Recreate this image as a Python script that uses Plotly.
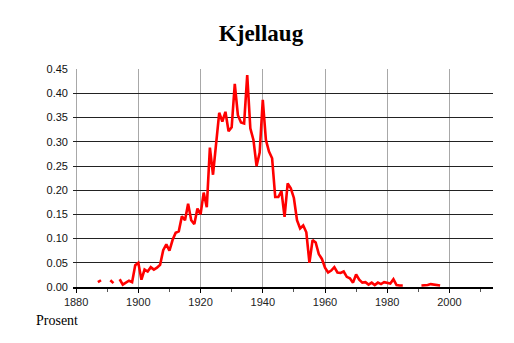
import plotly.graph_objects as go

years = list(range(1887, 1999))
values_by_year = {
    1887: 0.010, 1888: 0.014,
    1891: 0.014, 1892: 0.008,
    1894: 0.016, 1895: 0.005, 1896: 0.009, 1897: 0.013, 1898: 0.010, 1899: 0.045,
    1900: 0.050, 1901: 0.015, 1902: 0.036, 1903: 0.032, 1904: 0.041, 1905: 0.036,
    1906: 0.040, 1907: 0.046, 1908: 0.076, 1909: 0.088, 1910: 0.075, 1911: 0.097,
    1912: 0.112, 1913: 0.115, 1914: 0.146, 1915: 0.138, 1916: 0.172, 1917: 0.138,
    1918: 0.130, 1919: 0.162, 1920: 0.150, 1921: 0.195, 1922: 0.165, 1923: 0.288,
    1924: 0.232, 1925: 0.295, 1926: 0.360, 1927: 0.342, 1928: 0.362, 1929: 0.322,
    1930: 0.330, 1931: 0.420, 1932: 0.355, 1933: 0.340, 1934: 0.338, 1935: 0.438,
    1936: 0.328, 1937: 0.304, 1938: 0.250, 1939: 0.278, 1940: 0.387, 1941: 0.304,
    1942: 0.280, 1943: 0.266, 1944: 0.186, 1945: 0.186, 1946: 0.198, 1947: 0.145,
    1948: 0.214, 1949: 0.204, 1950: 0.184, 1951: 0.138, 1952: 0.121, 1953: 0.127,
    1954: 0.113, 1955: 0.050, 1956: 0.097, 1957: 0.092, 1958: 0.068, 1959: 0.058,
    1960: 0.040, 1961: 0.030, 1962: 0.034, 1963: 0.041, 1964: 0.030, 1965: 0.029,
    1966: 0.032, 1967: 0.021, 1968: 0.018, 1969: 0.009, 1970: 0.026, 1971: 0.015,
    1972: 0.009, 1973: 0.010, 1974: 0.005, 1975: 0.009, 1976: 0.004, 1977: 0.009,
    1978: 0.006, 1979: 0.010, 1980: 0.008, 1981: 0.007, 1982: 0.016, 1983: 0.004,
    1984: 0.003, 1985: 0.003,
    1991: 0.003, 1992: 0.003, 1993: 0.004, 1994: 0.006, 1995: 0.005, 1996: 0.003,
    1997: 0.003,
}
values = [values_by_year.get(y) for y in years]

x_ticks = [1880, 1900, 1920, 1940, 1960, 1980, 2000]
y_ticks = [0.00, 0.05, 0.10, 0.15, 0.20, 0.25, 0.30, 0.35, 0.40, 0.45]

fig = go.Figure()
fig.add_trace(go.Scatter(
    x=years, y=values, mode="lines", connectgaps=False,
    line=dict(color="#ff0000", width=2.6), hoverinfo="skip",
))

# page body has an 8px margin, so the figure is offset by 8px
fig.update_layout(
    width=506, height=335,
    margin=dict(l=64.5, r=20.5, t=61.3, b=56.3),
    paper_bgcolor="white", plot_bgcolor="white",
    showlegend=False,
    title=dict(text="<b>Kjellaug</b>", x=0.5, xanchor="center", y=0.925, yanchor="middle",
               font=dict(family="Liberation Serif", size=23, color="black")),
    annotations=[dict(text="Prosent", xref="paper", yref="paper", x=-0.094, y=-0.153,
                      xanchor="left", yanchor="middle", showarrow=False,
                      font=dict(family="Liberation Serif", size=14, color="black"))],
)

fig.update_xaxes(
    range=[1879, 2014], tickmode="array", tickvals=x_ticks,
    ticktext=[str(t) for t in x_ticks],
    showgrid=True, gridcolor="#a8a8a8", gridwidth=1,
    showline=True, linecolor="black", linewidth=2,
    ticks="outside", ticklen=4, tickcolor="black",
    minor=dict(tickvals=[1890, 1910, 1930, 1950, 1970, 1990, 2010], ticks="outside",
               ticklen=3, tickcolor="#555", showgrid=False),
    tickfont=dict(family="Liberation Sans", size=11, color="#222"),
    zeroline=False, fixedrange=True,
)
fig.update_yaxes(
    range=[0, 0.4505], tickmode="array", tickvals=y_ticks,
    ticktext=["%.2f" % v for v in y_ticks],
    showgrid=True, gridcolor="#222", gridwidth=1,
    showline=False, ticks="", ticklabelstandoff=4,
    tickfont=dict(family="Liberation Sans", size=11, color="#111"),
    zeroline=False, fixedrange=True,
)

fig.write_html("out.html")
